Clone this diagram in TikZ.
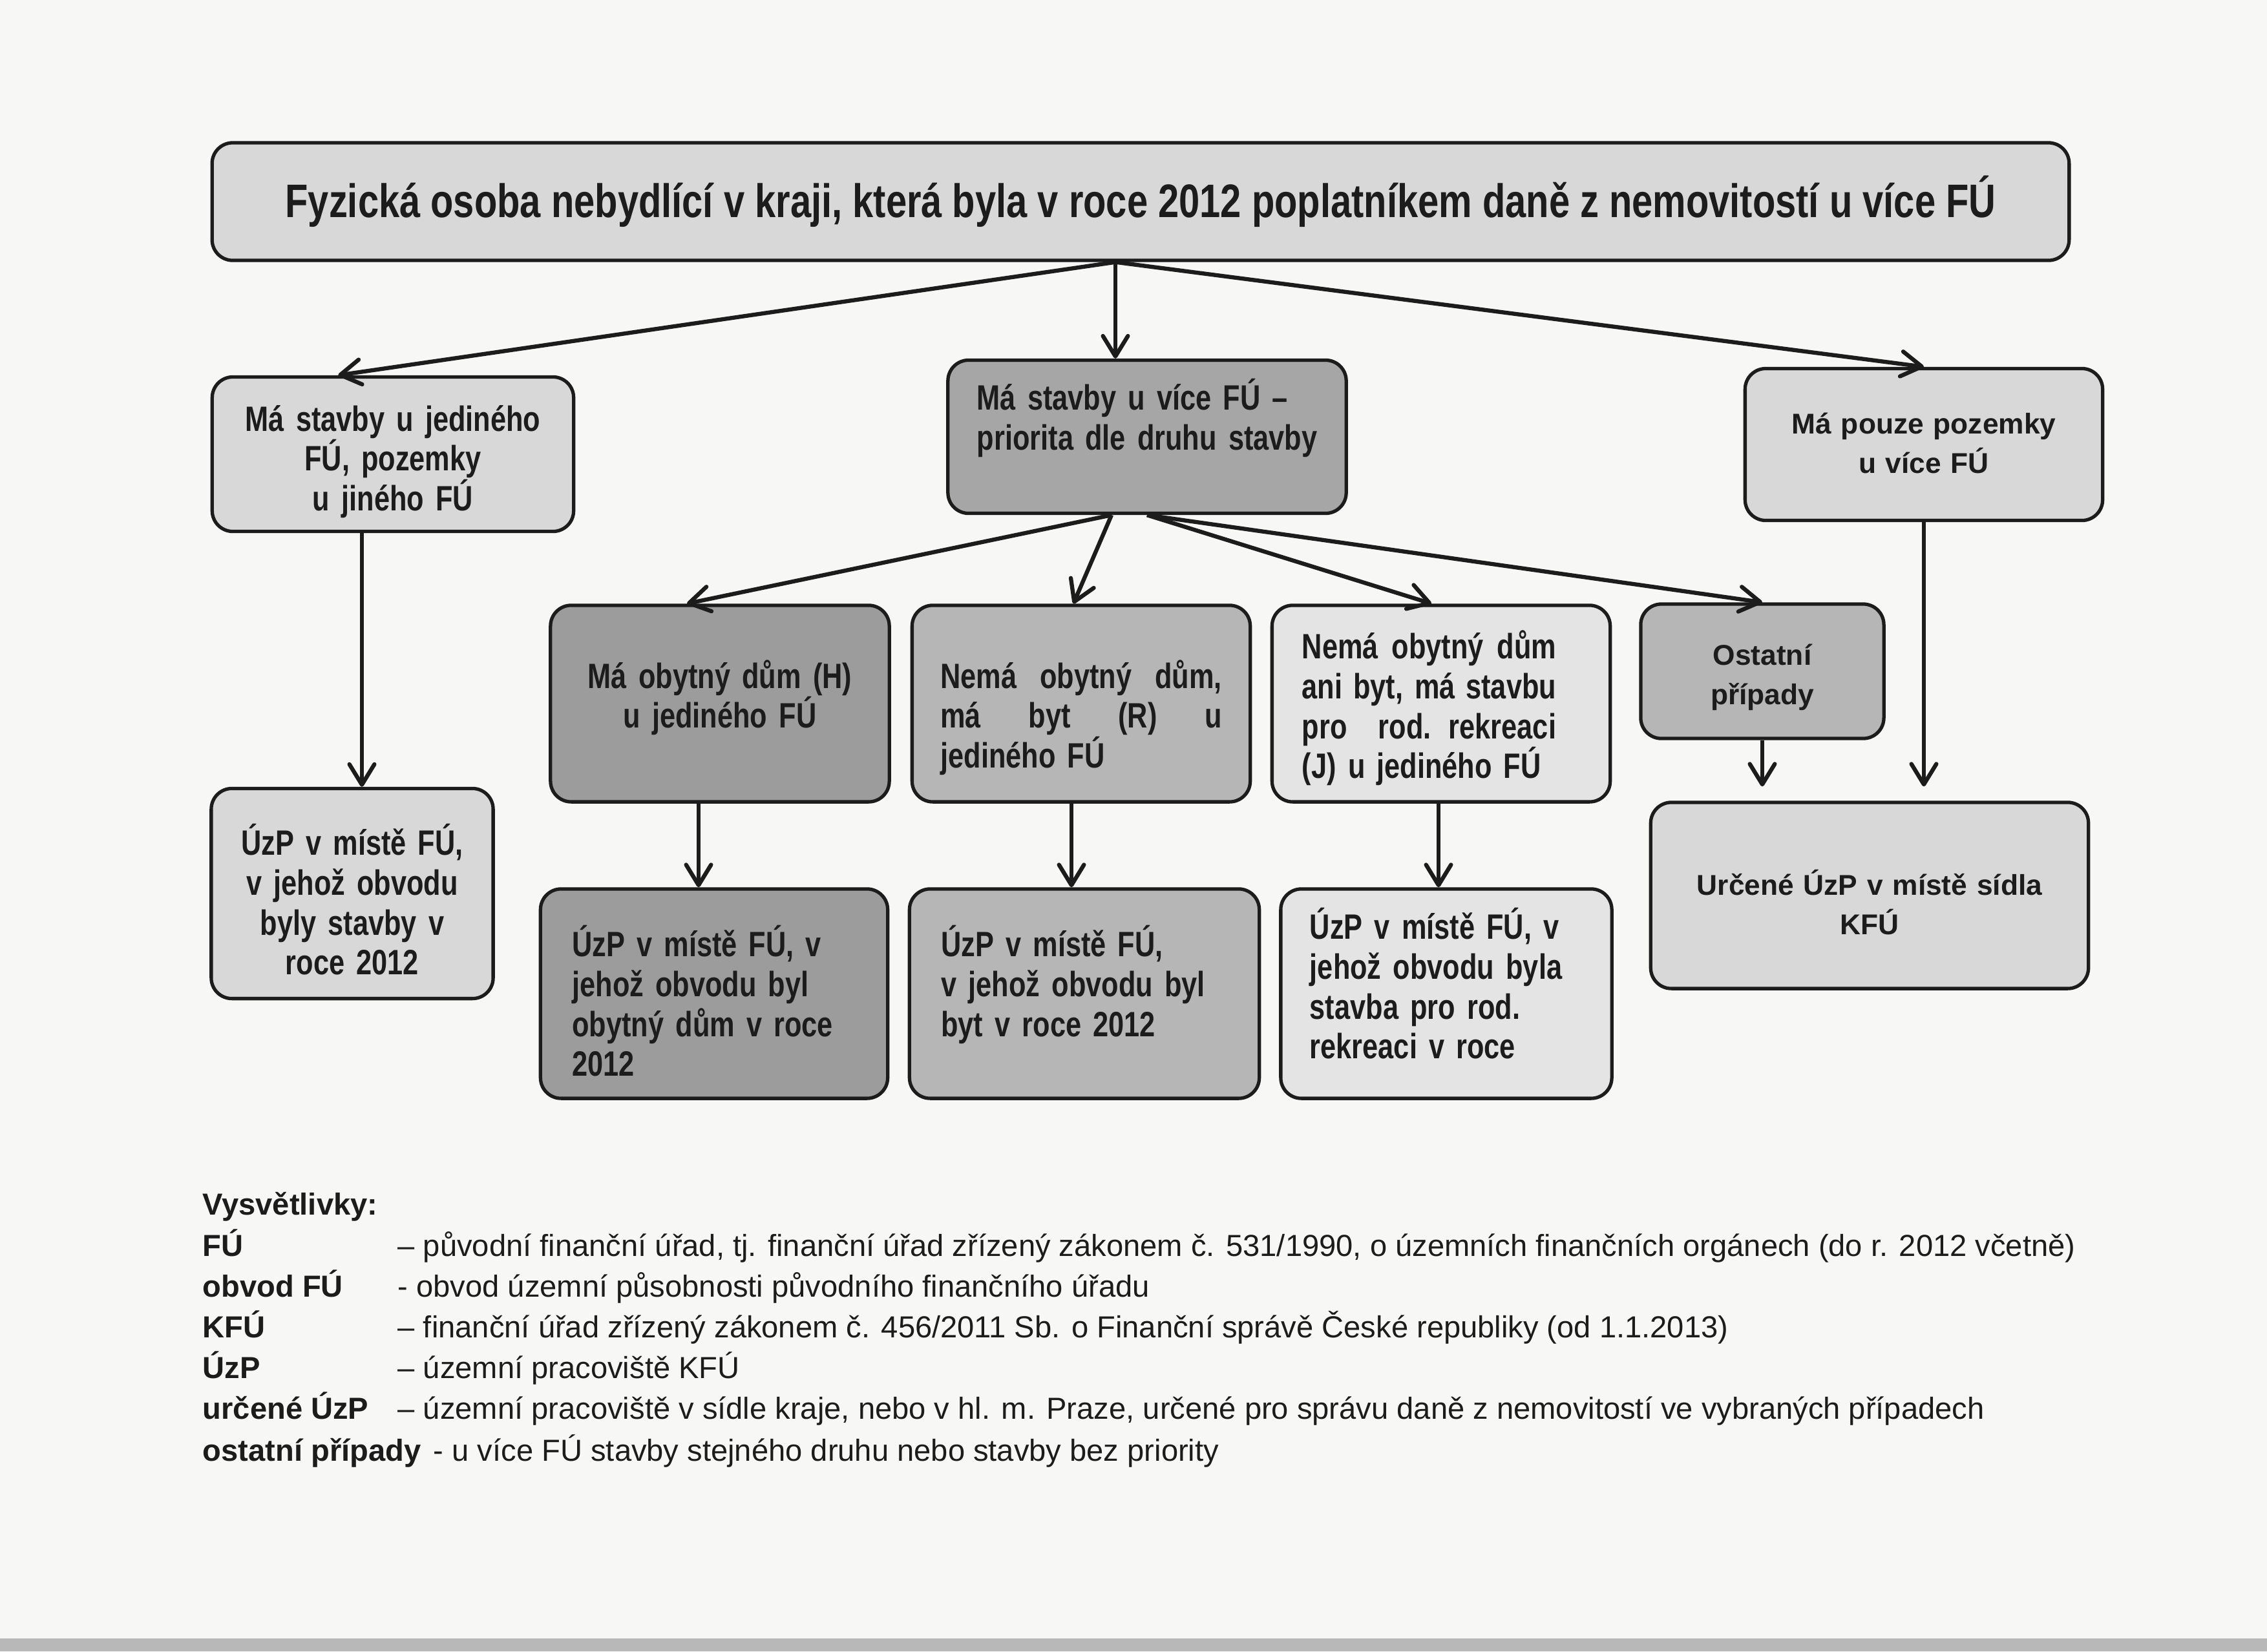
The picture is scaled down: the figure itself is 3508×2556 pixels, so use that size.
\documentclass[tikz,border=0pt]{standalone}
\usepackage{fontspec}
\setmainfont{Liberation Sans}
\newfontfamily\narrowfont[FakeStretch=0.795]{Liberation Sans}
\usetikzlibrary{arrows.meta,calc}

\definecolor{paper}{HTML}{F7F7F5}
\definecolor{ink}{HTML}{1C1C1C}
\definecolor{greyA}{HTML}{D8D8D8}
\definecolor{greyB}{HTML}{A6A6A6}
\definecolor{greyC}{HTML}{9C9C9C}
\definecolor{greyD}{HTML}{B6B6B6}
\definecolor{greyE}{HTML}{E4E4E4}

% a line spread to a given width (justified)
\newcommand{\spreadline}[2]{\makebox[#1][s]{\spaceskip=.25em plus 1fil\relax #2}}

\begin{document}
\begin{tikzpicture}[x=0.01cm,y=-0.01cm,
  box/.style={draw=ink,line width=1.5pt,rounded corners=0.32cm,inner sep=0pt,text=ink,
    font=\narrowfont\bfseries\fontsize{15.5}{17.5}\selectfont},
  widebox/.style={box,font=\bfseries\fontsize{12.6}{17.5}\selectfont},
  firstbase/.style={text height=0pt,text depth=#1},
  arr/.style={draw=ink,line width=1.8pt,-{Straight Barb[length=9pt,width=11pt,round]}},
  note/.style={anchor=base west,inner sep=0pt,text=ink,font=\fontsize{13.4}{16}\selectfont},
  noteterm/.style={note,font=\bfseries\fontsize{13.4}{16}\selectfont}]
\useasboundingbox (0,0) rectangle (3508,2556);
\fill[paper] (0,0) rectangle (3508,2556);
\fill[black!28] (0,2536) rectangle (3508,2556);

% top
\node[box,fill=greyA,minimum width=28.72cm,minimum height=1.82cm,
  font=\narrowfont\bfseries\fontsize{20.7}{24}\selectfont] (title) at (1765,312)
  {Fyzická osoba nebydlící v kraji, která byla v roce 2012 poplatníkem daně z nemovitostí u více FÚ};

% second row
\node[box,fill=greyA,minimum width=5.59cm,minimum height=2.39cm,text width=5.0cm,align=center,firstbase=0.72cm] (b2) at (608,703)
  {Má stavby u jediného\\FÚ, pozemky\\u jiného FÚ};
\node[box,fill=greyB,minimum width=6.16cm,minimum height=2.37cm,text width=5.26cm,align=left,firstbase=0.82cm] (b3) at (1775,676)
  {\mbox{Má stavby u více FÚ –}\\\mbox{priorita dle druhu stavby}};
\node[widebox,fill=greyA,minimum width=5.53cm,minimum height=2.35cm,text width=5.0cm,align=center,firstbase=0.34cm] (b4) at (2977,688)
  {Má pouze pozemky\\u více FÚ};

% third row
\node[box,fill=greyC,minimum width=5.24cm,minimum height=3.04cm,text width=4.6cm,align=center,firstbase=0.48cm] (b5) at (1114,1089)
  {Má obytný dům (H)\\u jediného FÚ};
\node[box,fill=greyD,minimum width=5.23cm,minimum height=3.04cm,text width=4.35cm,align=left,firstbase=0.48cm] (b6) at (1673,1089)
  {\spreadline{4.35cm}{Nemá obytný dům,}\\\spreadline{4.35cm}{má byt (R) u}\\jediného FÚ};
\node[box,fill=greyE,minimum width=5.23cm,minimum height=3.04cm,text width=4.3cm,align=left,firstbase=1.38cm] (b7) at (2230,1089)
  {\spreadline{3.93cm}{Nemá obytný dům}\\\spreadline{3.93cm}{ani byt, má stavbu}\\\spreadline{3.93cm}{pro rod. rekreaci}\\(J) u jediného FÚ};
\node[widebox,fill=greyD,minimum width=3.76cm,minimum height=2.08cm,text width=3.4cm,align=center,firstbase=0.20cm] (b8) at (2727,1039)
  {Ostatní\\případy};

% results
\node[box,fill=greyA,minimum width=4.36cm,minimum height=3.25cm,text width=4.0cm,align=center,firstbase=1.18cm] (b9) at (545,1383)
  {ÚzP v místě FÚ,\\v jehož obvodu\\byly stavby v\\roce 2012};
\node[box,fill=greyC,minimum width=5.37cm,minimum height=3.24cm,text width=4.39cm,align=left,firstbase=1.14cm] (b10) at (1105,1538)
  {ÚzP v místě FÚ, v\\jehož obvodu byl\\obytný dům v roce\\2012};
\node[box,fill=greyD,minimum width=5.41cm,minimum height=3.24cm,text width=4.43cm,align=left,firstbase=1.14cm] (b11) at (1678,1538)
  {ÚzP v místě FÚ,\\v jehož obvodu byl\\byt v roce 2012};
\node[box,fill=greyE,minimum width=5.12cm,minimum height=3.24cm,text width=4.22cm,align=left,firstbase=1.68cm] (b12) at (2238,1538)
  {ÚzP v místě FÚ, v\\jehož obvodu byla\\stavba pro rod.\\rekreaci v roce};
\node[widebox,fill=greyA,minimum width=6.77cm,minimum height=2.88cm,text width=6.2cm,align=center,firstbase=0.02cm] (b13) at (2893,1386)
  {Určené ÚzP v místě sídla\\KFÚ};

% connectors
\coordinate (hub) at ($(title.south)+(-39,0)$);
\draw[arr] (hub) -- ($(b2.north west)!0.35!(b2.north east)$);
\draw[arr] (hub) -- (hub |- b3.north);
\draw[arr] (hub) -- (b4.north);

\coordinate (fanL) at ($(b3.south)+(-55,0)$);
\draw[arr] (fanL) -- ($(b5.north)+(-51,0)$);
\draw[arr] (fanL) -- ($(b6.north)+(-12,0)$);
\draw[arr] (b3.south) -- ($(b7.north)+(-15,0)$);
\draw[arr] (b3.south) -- (b8.north);

\coordinate (c9) at ($(b9.north)+(15,0)$);
\draw[arr] (c9 |- b2.south) -- (c9);
\coordinate (c10) at ($(b10.north)+(-24,0)$);
\draw[arr] (c10 |- b5.south) -- (c10);
\coordinate (c11) at ($(b11.north)+(-20,0)$);
\draw[arr] (c11 |- b6.south) -- (c11);
\coordinate (c12) at ($(b12.north)+(-12,0)$);
\draw[arr] (c12 |- b7.south) -- (c12);
\draw[arr,shorten >=0.22cm] (b8.south) -- (b8.south |- b13.north);
\draw[arr,shorten >=0.22cm] (b4.south) -- (b4.south |- b13.north);

% legend
\node[noteterm] (lgtitle) at (313,1880) {Vysvětlivky:};
\node[noteterm] (lgFU) at (313,1944) {FÚ};
\node[note] (dFU) at (615,1944) {– původní finanční úřad, tj. finanční úřad zřízený zákonem č. 531/1990, o územních finančních orgánech (do r. 2012 včetně)};
\node[noteterm] (lgobvod) at (313,2007) {obvod FÚ};
\node[note] (dobvod) at (615,2007) {- obvod územní působnosti původního finančního úřadu};
\node[noteterm] (lgKFU) at (313,2070) {KFÚ};
\node[note] (dKFU) at (615,2070) {– finanční úřad zřízený zákonem č. 456/2011 Sb. o Finanční správě České republiky (od 1.1.2013)};
\node[noteterm] (lgUzP) at (313,2133) {ÚzP};
\node[note] (dUzP) at (615,2133) {– územní pracoviště KFÚ};
\node[noteterm] (lgurc) at (313,2196) {určené ÚzP};
\node[note] (durc) at (615,2196) {– územní pracoviště v sídle kraje, nebo v hl. m. Praze, určené pro správu daně z nemovitostí ve vybraných případech};
\node[noteterm] (lgost) at (313,2261) {ostatní případy};
\node[note] (dost) at ($(lgost.base east)+(18,0)$) {- u více FÚ stavby stejného druhu nebo stavby bez priority};
\end{tikzpicture}
\end{document}
